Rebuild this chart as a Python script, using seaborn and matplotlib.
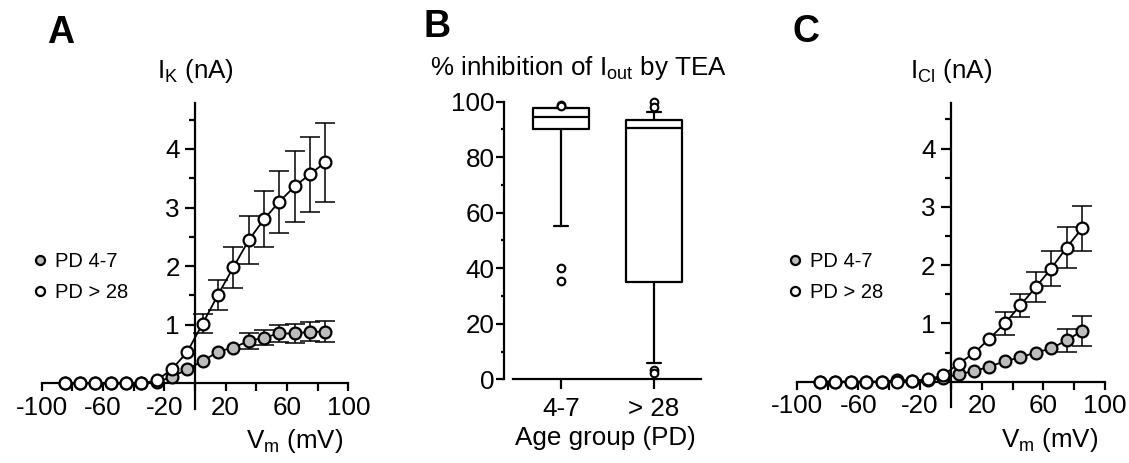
import matplotlib
matplotlib.use("Agg")
import matplotlib.pyplot as plt
import matplotlib.transforms as mtransforms
from matplotlib.lines import Line2D
import seaborn as sns

# ---------------- data ----------------
vm = [-85, -75, -65, -55, -45, -35, -25, -15, -5, 5, 15, 25, 35, 45, 55, 65, 75, 85]

# Panel A: I_K (nA)
ik_young = [0.0, 0.0, 0.0, 0.0, 0.0, 0.0, 0.02, 0.11, 0.24, 0.38, 0.54, 0.61, 0.72, 0.78, 0.85, 0.85, 0.88, 0.88]
ik_young_err = [0, 0, 0, 0, 0, 0, 0, 0, 0, 0, 0, 0, 0.14, 0.13, 0.15, 0.17, 0.165, 0.18]
ik_adult = [0.0, 0.0, 0.0, 0.0, 0.0, 0.0, 0.05, 0.24, 0.54, 1.02, 1.51, 1.98, 2.44, 2.80, 3.10, 3.36, 3.57, 3.77]
ik_adult_err = [0, 0, 0, 0, 0, 0, 0, 0, 0, 0.16, 0.26, 0.35, 0.41, 0.48, 0.53, 0.60, 0.64, 0.67]

# Panel C: I_Cl (nA)
icl_young = [0.0, 0.0, 0.0, 0.0, 0.0, 0.03, 0.02, 0.03, 0.06, 0.13, 0.18, 0.26, 0.35, 0.42, 0.50, 0.57, 0.71, 0.87]
icl_young_err = [0, 0, 0, 0, 0, 0, 0, 0, 0, 0, 0, 0, 0, 0, 0, 0, 0.20, 0.26]
icl_adult = [0.0, 0.0, 0.0, 0.0, 0.0, 0.0, 0.01, 0.04, 0.11, 0.31, 0.49, 0.74, 1.00, 1.31, 1.62, 1.94, 2.30, 2.63]
icl_adult_err = [0, 0, 0, 0, 0, 0, 0, 0, 0, 0, 0, 0, 0.19, 0.20, 0.26, 0.30, 0.35, 0.38]

series_labels = ["PD 4-7", "PD > 28"]

# Panel B: box summary (% inhibition of I_out by TEA)
box_groups = ["4-7", "> 28"]
box_q1 = [90.0, 35.2]
box_med = [94.6, 90.4]
box_q3 = [97.8, 93.4]
box_whislo = [55.3, 5.7]
box_whishi = [97.8, 96.2]
box_fliers = [[40.0, 35.4, 98.7, 98.3], [99.8, 98.2, 3.4, 2.4]]

x_ticks_major = [-100, -60, -20, 20, 60, 100]
x_ticks_minor = [-80, -40, 0, 40, 80]
y_ticks_major = [1, 2, 3, 4]
y_ticks_minor = [0.5, 1.5, 2.5, 3.5, 4.5]
b_yticks = [0, 20, 40, 60, 80, 100]
b_yticks_minor = [10, 30, 50, 70, 90]

# ---------------- style ----------------
sns.set_theme(style="ticks")
plt.rcParams["font.family"] = ["Liberation Sans", "DejaVu Sans"]
plt.rcParams["mathtext.fontset"] = "custom"
plt.rcParams["mathtext.rm"] = "Liberation Sans"
plt.rcParams["mathtext.it"] = "Liberation Sans:italic"
plt.rcParams["mathtext.bf"] = "Liberation Sans:bold"
for k in ["text.color", "axes.labelcolor", "xtick.color", "ytick.color", "axes.edgecolor"]:
    plt.rcParams[k] = "black"

GRAY = "#bcbcbc"
LW = 1.6
FS = 18.7

fig = plt.figure(figsize=(11.29, 4.63), dpi=100)

YLIM = (-0.43, 4.78)


def iv_panel(ax, y_young, e_young, y_adult, e_adult, ylabel):
    for y, e, fc, z in [(y_young, e_young, GRAY, 4), (y_adult, e_adult, "white", 5)]:
        xs = [v for v, ee in zip(vm, e) if ee > 0]
        ys = [v for v, ee in zip(y, e) if ee > 0]
        es = [ee for ee in e if ee > 0]
        if xs:
            ax.errorbar(xs, ys, yerr=es, fmt="none", ecolor="black", elinewidth=1.1,
                        capsize=7, capthick=1.1, zorder=z - 1, clip_on=False)
        sns.lineplot(x=vm, y=y, ax=ax, color="black", linewidth=1.3, marker="o",
                     markersize=8.5, markerfacecolor=fc, markeredgecolor="black",
                     markeredgewidth=1.6, zorder=z, clip_on=False, legend=False)
    ax.set_xlim(-100, 100)
    ax.set_ylim(*YLIM)
    ax.set_xlabel("")
    ax.set_ylabel("")
    for s in ["top", "right"]:
        ax.spines[s].set_visible(False)
    ax.spines["left"].set_position(("data", 0))
    ax.spines["bottom"].set_position(("data", 0))
    ax.spines["left"].set_linewidth(LW)
    ax.spines["bottom"].set_linewidth(LW)
    ax.set_xticks(x_ticks_major)
    ax.set_xticklabels([str(v) for v in x_ticks_major])
    ax.set_xticks(x_ticks_minor, minor=True)
    ax.set_yticks(y_ticks_major)
    ax.set_yticklabels([str(v) for v in y_ticks_major])
    ax.set_yticks(y_ticks_minor, minor=True)
    ax.tick_params(axis="x", which="both", direction="out", length=6, width=LW,
                   labelsize=FS, pad=3, colors="black")
    ax.tick_params(axis="y", which="major", direction="out", length=7, width=LW,
                   labelsize=FS, pad=4, colors="black")
    ax.tick_params(axis="y", which="minor", direction="out", length=4.5, width=LW,
                   colors="black")
    ax.patch.set_alpha(0)
    trans = mtransforms.blended_transform_factory(ax.transData, fig.transFigure)
    ax.text(0, 0.831, ylabel, transform=trans, ha="center", va="baseline",
            fontsize=FS)
    handles = [Line2D([], [], ls="none", marker="o", markersize=6.5,
                      markerfacecolor=GRAY, markeredgecolor="black", markeredgewidth=1.6),
               Line2D([], [], ls="none", marker="o", markersize=6.5,
                      markerfacecolor="white", markeredgecolor="black", markeredgewidth=1.6)]
    return handles


def add_legend(ax, handles, x_px):
    leg = ax.legend(handles, series_labels, loc="center left",
                    bbox_to_anchor=(x_px / 1129, 0.4017),
                    bbox_transform=fig.transFigure, frameon=False, borderpad=0,
                    handlelength=1.0, handletextpad=0.25, labelspacing=0.55,
                    fontsize=14.5, borderaxespad=0)
    for t in leg.get_texts():
        t.set_color("black")


# Panel A
axA = fig.add_axes([0.03694, 0.1177, 0.2716, 0.6594])
hA = iv_panel(axA, ik_young, ik_young_err, ik_adult, ik_adult_err,
              r"$\mathregular{I_{K}}$ (nA)")
add_legend(axA, hA, 30)
fig.text(343 / 1129, 0.0324, r"$\mathregular{V_{m}}$ (mV)", ha="right", va="baseline",
         fontsize=FS)
fig.text(47 / 1129, 0.9065, "A", ha="left", va="baseline", fontsize=27, fontweight="bold")

# Panel C
axC = fig.add_axes([0.7057, 0.1214, 0.2731, 0.656])
hC = iv_panel(axC, icl_young, icl_young_err, icl_adult, icl_adult_err,
              r"$\mathregular{I_{Cl}}$ (nA)")
add_legend(axC, hC, 785)
fig.text(1098 / 1129, 0.035, r"$\mathregular{V_{m}}$ (mV)", ha="right", va="baseline",
         fontsize=FS)
fig.text(792 / 1129, 0.910, "C", ha="left", va="baseline", fontsize=27, fontweight="bold")

# Panel B
axB = fig.add_axes([0.4467, 0.1808, 0.1742, 0.5996])
stats = []
for i in range(len(box_groups)):
    stats.append(dict(label=box_groups[i], q1=box_q1[i], med=box_med[i], q3=box_q3[i],
                      whislo=box_whislo[i], whishi=box_whishi[i], fliers=box_fliers[i]))
axB.bxp(stats, positions=[0, 1], widths=0.6, showfliers=True,
        boxprops=dict(color="black", linewidth=LW),
        medianprops=dict(color="black", linewidth=LW),
        whiskerprops=dict(color="black", linewidth=LW),
        capprops=dict(color="black", linewidth=LW),
        capwidths=0.16,
        flierprops=dict(marker="o", markersize=5.5, markerfacecolor="white",
                        markeredgecolor="black", markeredgewidth=1.5, clip_on=False))
axB.set_xlim(-0.61, 1.505)
axB.set_ylim(0, 100)
for s in ["top", "right"]:
    axB.spines[s].set_visible(False)
axB.spines["left"].set_linewidth(LW)
axB.spines["bottom"].set_linewidth(LW)
axB.spines["bottom"].set_bounds(-0.516, 1.505)
axB.set_xticks([0, 1])
axB.set_xticklabels(box_groups)
axB.set_yticks(b_yticks)
axB.set_yticklabels([str(v) for v in b_yticks])
axB.set_yticks(b_yticks_minor, minor=True)
axB.tick_params(axis="x", which="major", direction="out", length=7, width=LW,
                labelsize=FS, pad=6, colors="black")
axB.tick_params(axis="y", which="major", direction="out", length=6, width=LW,
                labelsize=FS, pad=1, colors="black")
axB.tick_params(axis="y", which="minor", direction="out", length=2.5, width=LW,
                colors="black")
axB.patch.set_alpha(0)
fig.text(0.5122, 0.838, r"% inhibition of $\mathregular{I_{out}}$ by TEA", ha="center",
         va="baseline", fontsize=FS)
fig.text(0.5366, 0.0389, "Age group (PD)", ha="center", va="baseline", fontsize=FS)
fig.text(424 / 1129, 0.9207, "B", ha="left", va="baseline", fontsize=27, fontweight="bold")

fig.savefig("out.png", dpi=100)
